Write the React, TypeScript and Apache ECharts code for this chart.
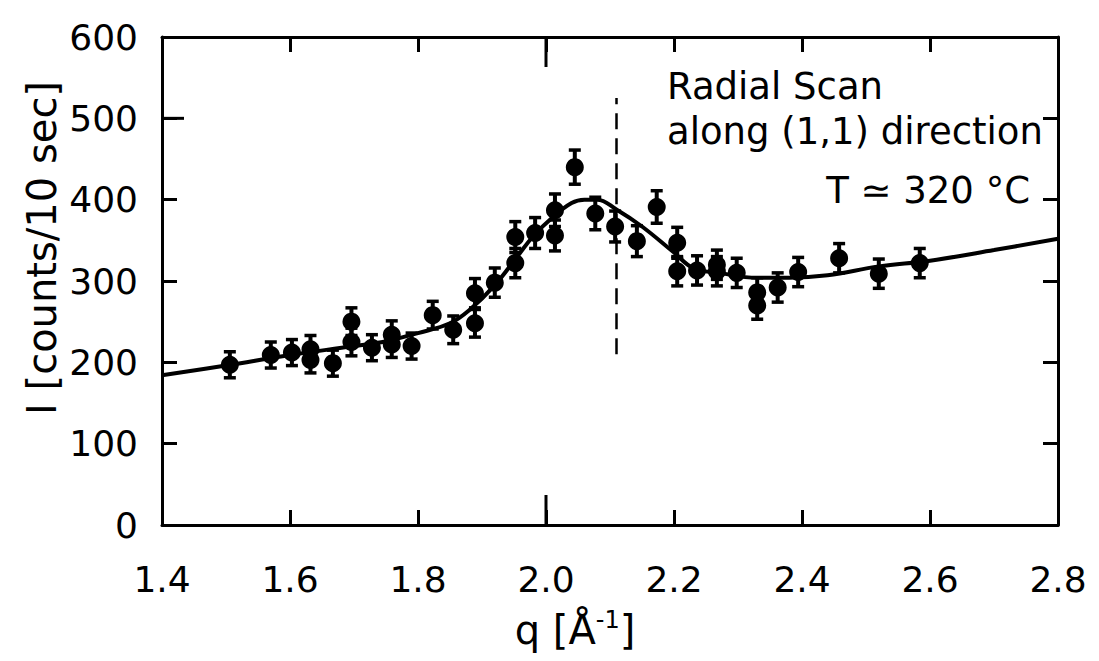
import React, { useEffect, useRef } from "react";
import * as echarts from "echarts";

// Measured points: scattering vector q (1/Å) and intensity (counts / 10 s)
const qValues = [
  1.506, 1.57, 1.603, 1.632, 1.632, 1.667, 1.696, 1.696, 1.728, 1.759, 1.759,
  1.79, 1.823, 1.855, 1.889, 1.889, 1.92, 1.952, 1.952, 1.983, 2.014, 2.014,
  2.045, 2.077, 2.108, 2.142, 2.173, 2.205, 2.205, 2.236, 2.267, 2.267, 2.298,
  2.33, 2.33, 2.362, 2.394, 2.458, 2.52, 2.584,
];
const intensities = [
  197, 209, 212, 216, 203, 199, 250, 225, 218, 234, 222, 220, 258, 240, 285,
  248, 298, 354, 322, 359, 387, 356, 440, 383, 367, 349, 391, 347, 312, 313,
  320, 312, 310, 286, 270, 292, 311, 328, 309, 322,
];
const errors = [
  16, 16, 16, 17, 16, 16, 17, 17, 16, 17, 16, 16, 17, 17, 18, 17, 18, 19, 18,
  19, 20, 19, 21, 20, 19, 19, 20, 19, 18, 18, 18, 18, 18, 18, 17, 18, 18, 18,
  18, 18,
];

// Fitted curve through the scan
const fitQ = [
  1.4, 1.5, 1.6, 1.7, 1.75, 1.8, 1.85, 1.88, 1.92, 1.955, 1.98, 2.01, 2.04,
  2.06, 2.08, 2.11, 2.15, 2.2, 2.23, 2.27, 2.33, 2.38, 2.44, 2.52, 2.6, 2.7,
  2.8,
];
const fitI = [
  184, 196, 209, 220, 226, 236, 248, 264, 295, 330, 355, 378, 396, 400, 400,
  388, 367, 335, 316, 310, 304, 304, 307, 318, 325, 338, 352,
];

// Dashed marker position and its vertical extent
const markerQ = 2.11;
const markerRange = [210, 525];

// Major ticks drawn longer than the rest
const longTickQ = [2.0];
const longTickI = [500];

const xTicks = { min: 1.4, max: 2.8, interval: 0.2 };
const yTicks = { min: 0, max: 600, interval: 100 };

const FONT = "'DejaVu Sans', 'Liberation Sans', sans-serif";

const frameAxis = (position: string, showLabel: boolean, extra: any = {}) => ({
  type: "value",
  position,
  axisLine: { show: true, onZero: false, lineStyle: { color: "#000", width: 3 } },
  axisTick: { show: true, inside: true, length: 15, lineStyle: { color: "#000", width: 3 } },
  splitLine: { show: false },
  axisLabel: showLabel
    ? { show: true, fontSize: 36, fontFamily: FONT, color: "#000", ...extra }
    : { show: false },
});

const tickStyle = { stroke: "#000", lineWidth: 3 };

export default function App() {
  const ref = useRef<HTMLDivElement>(null);

  useEffect(() => {
    document.body.style.margin = "0";
    if (!ref.current) return;
    const chart = echarts.init(ref.current, null, { renderer: "svg" });

    const points = qValues.map((q, i) => [q, intensities[i]]);
    const bars = qValues.map((q, i) => [q, intensities[i] - errors[i], intensities[i] + errors[i]]);
    const fit = fitQ.map((q, i) => [q, fitI[i]]);

    chart.setOption({
      animation: false,
      backgroundColor: "#fff",
      grid: { left: 162, right: 41, top: 37, bottom: 136, containLabel: false },
      xAxis: [
        {
          ...frameAxis("bottom", true, {
            formatter: (v: number) => v.toFixed(1),
            margin: 36,
          }),
          ...xTicks,
        },
        { ...frameAxis("top", false), ...xTicks },
      ],
      yAxis: [
        { ...frameAxis("left", true, { margin: 24 }), ...yTicks },
        { ...frameAxis("right", false), ...yTicks },
      ],
      graphic: [
        {
          type: "text",
          x: 42,
          y: 248,
          rotation: Math.PI / 2,
          style: {
            text: "I [counts/10 sec]",
            font: `40px ${FONT}`,
            fill: "#000",
            align: "center",
            verticalAlign: "middle",
          },
        },
        {
          type: "text",
          x: 575,
          y: 630,
          style: {
            text: "q [Å{sup|-1}]",
            font: `40px ${FONT}`,
            fill: "#000",
            align: "center",
            verticalAlign: "middle",
            rich: {
              sup: { fontSize: 24, fontFamily: FONT, verticalAlign: "top", padding: [0, 0, 20, 0] },
            },
          },
        },
        {
          type: "text",
          x: 667,
          y: 86,
          style: { text: "Radial Scan", font: `37px ${FONT}`, fill: "#000", verticalAlign: "middle" },
        },
        {
          type: "text",
          x: 667,
          y: 131,
          style: { text: "along (1,1) direction", font: `37px ${FONT}`, fill: "#000", verticalAlign: "middle" },
        },
        {
          type: "text",
          x: 1030,
          y: 190,
          style: { text: "T ≃ 320 °C", font: `37px ${FONT}`, fill: "#000", align: "right", verticalAlign: "middle" },
        },
      ],
      series: [
        {
          // longer q-axis ticks, at bottom and top of the frame
          type: "custom",
          data: longTickQ.map((q) => [q, yTicks.min]),
          silent: true,
          z: 1,
          renderItem: (_params: any, api: any) => {
            const q = api.value(0);
            const b = api.coord([q, yTicks.min]);
            const t = api.coord([q, yTicks.max]);
            return {
              type: "group",
              children: [
                { type: "line", shape: { x1: b[0], y1: b[1], x2: b[0], y2: b[1] - 30 }, style: tickStyle },
                { type: "line", shape: { x1: t[0], y1: t[1], x2: t[0], y2: t[1] + 30 }, style: tickStyle },
              ],
            };
          },
        },
        {
          // longer intensity tick on the left edge
          type: "custom",
          data: longTickI.map((v) => [xTicks.min, v]),
          silent: true,
          z: 1,
          renderItem: (_params: any, api: any) => {
            const p = api.coord([xTicks.min, api.value(1)]);
            return { type: "line", shape: { x1: p[0], y1: p[1], x2: p[0] + 22, y2: p[1] }, style: tickStyle };
          },
        },
        {
          type: "line",
          data: fit,
          smooth: 0.4,
          showSymbol: false,
          lineStyle: { color: "#000", width: 4 },
          z: 2,
          markLine: {
            silent: true,
            symbol: "none",
            label: { show: false },
            data: [
              [
                { coord: [markerQ, markerRange[0]], lineStyle: { color: "#000", width: 2.5, type: [16, 9] } },
                { coord: [markerQ, markerRange[1]] },
              ],
            ],
          },
        },
        {
          type: "custom",
          data: bars,
          encode: { x: 0, y: [1, 2] },
          z: 3,
          renderItem: (_params: any, api: any) => {
            const q = api.value(0);
            const lo = api.coord([q, api.value(1)]);
            const hi = api.coord([q, api.value(2)]);
            const w = 6;
            const style = { stroke: "#000", lineWidth: 3.5 };
            return {
              type: "group",
              children: [
                { type: "line", shape: { x1: lo[0], y1: lo[1], x2: hi[0], y2: hi[1] }, style: { stroke: "#000", lineWidth: 4 } },
                { type: "line", shape: { x1: lo[0] - w, y1: lo[1], x2: lo[0] + w, y2: lo[1] }, style },
                { type: "line", shape: { x1: hi[0] - w, y1: hi[1], x2: hi[0] + w, y2: hi[1] }, style },
              ],
            };
          },
        },
        {
          type: "scatter",
          data: points,
          symbol: "circle",
          symbolSize: 18,
          itemStyle: { color: "#000", opacity: 1 },
          z: 4,
        },
      ],
    });

    return () => chart.dispose();
  }, []);

  return <div ref={ref} style={{ width: 1099, height: 661 }} />;
}
